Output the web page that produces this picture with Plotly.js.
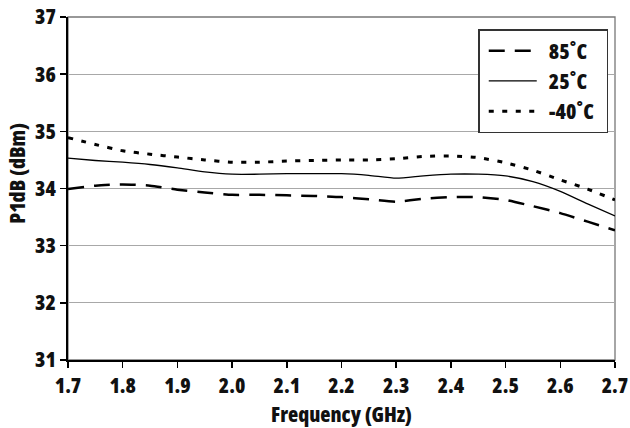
<!DOCTYPE html>
<html>
<head>
<meta charset="utf-8">
<script src="https://cdn.plot.ly/plotly-3.0.1.min.js"></script>
<style>
html,body{margin:0;padding:0;background:#fff;}
#chart{width:630px;height:428px;}
#chart text{font-stretch:75% !important;}
</style>
</head>
<body>
<div id="chart"></div>
<script>
const freq = [1.70,1.75,1.80,1.85,1.90,1.95,2.00,2.05,2.10,2.15,2.20,2.25,2.30,2.35,2.40,2.45,2.50,2.55,2.60,2.65,2.70];
const p85 = [33.99,34.05,34.07,34.05,33.98,33.93,33.89,33.89,33.88,33.87,33.85,33.81,33.77,33.82,33.85,33.85,33.80,33.69,33.57,33.42,33.27];
const p25 = [34.53,34.49,34.46,34.42,34.36,34.29,34.25,34.25,34.26,34.26,34.26,34.23,34.18,34.22,34.25,34.25,34.22,34.12,33.95,33.73,33.52];
const pm40 = [34.89,34.77,34.66,34.60,34.55,34.50,34.46,34.46,34.48,34.49,34.50,34.50,34.52,34.56,34.57,34.54,34.45,34.32,34.15,33.99,33.80];
const seriesNames = ['85\u02DAC','25\u02DAC','-40\u02DAC'];
const xTickVals = [1.7,1.8,1.9,2.0,2.1,2.2,2.3,2.4,2.5,2.6,2.7];
const xTickText = ['1.7','1.8','1.9','2.0','2.1','2.2','2.3','2.4','2.5','2.6','2.7'];
const yTickVals = [31,32,33,34,35,36,37];
const xTitle = 'Frequency (GHz)';
const yTitle = 'P1dB (dBm)';

const FONT = 'Open Sans, sans-serif';
const F = {family: FONT, size: 21, color: '#111', weight: 800};

const traces = [
  {x: freq, y: p85, name: seriesNames[0], mode: 'lines', line: {color: '#000', width: 2.5, dash: '16px,10px', shape: 'spline', smoothing: 0.6}},
  {x: freq, y: p25, name: seriesNames[1], mode: 'lines', line: {color: '#000', width: 1.3, shape: 'spline', smoothing: 0.6}},
  {x: freq, y: pm40, name: seriesNames[2], mode: 'lines', line: {color: '#000', width: 3, dash: '5px,8.5px', shape: 'spline', smoothing: 0.6}}
];

const layout = {
  width: 630, height: 428,
  margin: {l: 68, r: 15, t: 17, b: 68, pad: 0},
  paper_bgcolor: '#fff', plot_bgcolor: '#fff',
  font: F,
  showlegend: true,
  legend: {
    x: 0.75, y: 0.965, xanchor: 'left', yanchor: 'top',
    bgcolor: '#fff', bordercolor: '#333', borderwidth: 1.5,
    font: F, itemwidth: 59, tracegroupgap: 0
  },
  xaxis: {
    range: [1.7, 2.70001], tickmode: 'array', tickvals: xTickVals, ticktext: xTickText,
    ticklabeloverflow: 'allow',
    showgrid: false, zeroline: false,
    showline: true, linecolor: '#000', linewidth: 2,
    ticks: 'outside', ticklen: 6, tickwidth: 1.5, tickcolor: '#000',
    tickfont: F,
    title: {text: xTitle, standoff: 10, font: F},
    fixedrange: true
  },
  yaxis: {
    range: [31, 37], tickmode: 'array', tickvals: yTickVals,
    showgrid: true, gridcolor: '#a8a8a8', gridwidth: 1.2, zeroline: false,
    showline: true, linecolor: '#000', linewidth: 2,
    ticks: 'outside', ticklen: 6, tickwidth: 1.5, tickcolor: '#000',
    tickfont: F,
    fixedrange: true
  },
  shapes: [
    {type: 'rect', xref: 'paper', yref: 'paper', x0: 0, x1: 1, y0: 0, y1: 1, line: {color: '#777', width: 1.3}, layer: 'below'}
  ],
  annotations: [
    {text: yTitle, xref: 'paper', yref: 'paper', x: -0.093, y: 0.544, xanchor: 'center', yanchor: 'middle',
     textangle: -90, showarrow: false, font: F}
  ]
};

Plotly.newPlot('chart', traces, layout, {displayModeBar: false, staticPlot: true}).then(function (gd) {
  // lengthen legend line samples to match the reference legend
  gd.querySelectorAll('.legend .legendlines path').forEach(function (p) {
    p.setAttribute('d', 'M9,0h48');
  });
});
</script>
</body>
</html>
